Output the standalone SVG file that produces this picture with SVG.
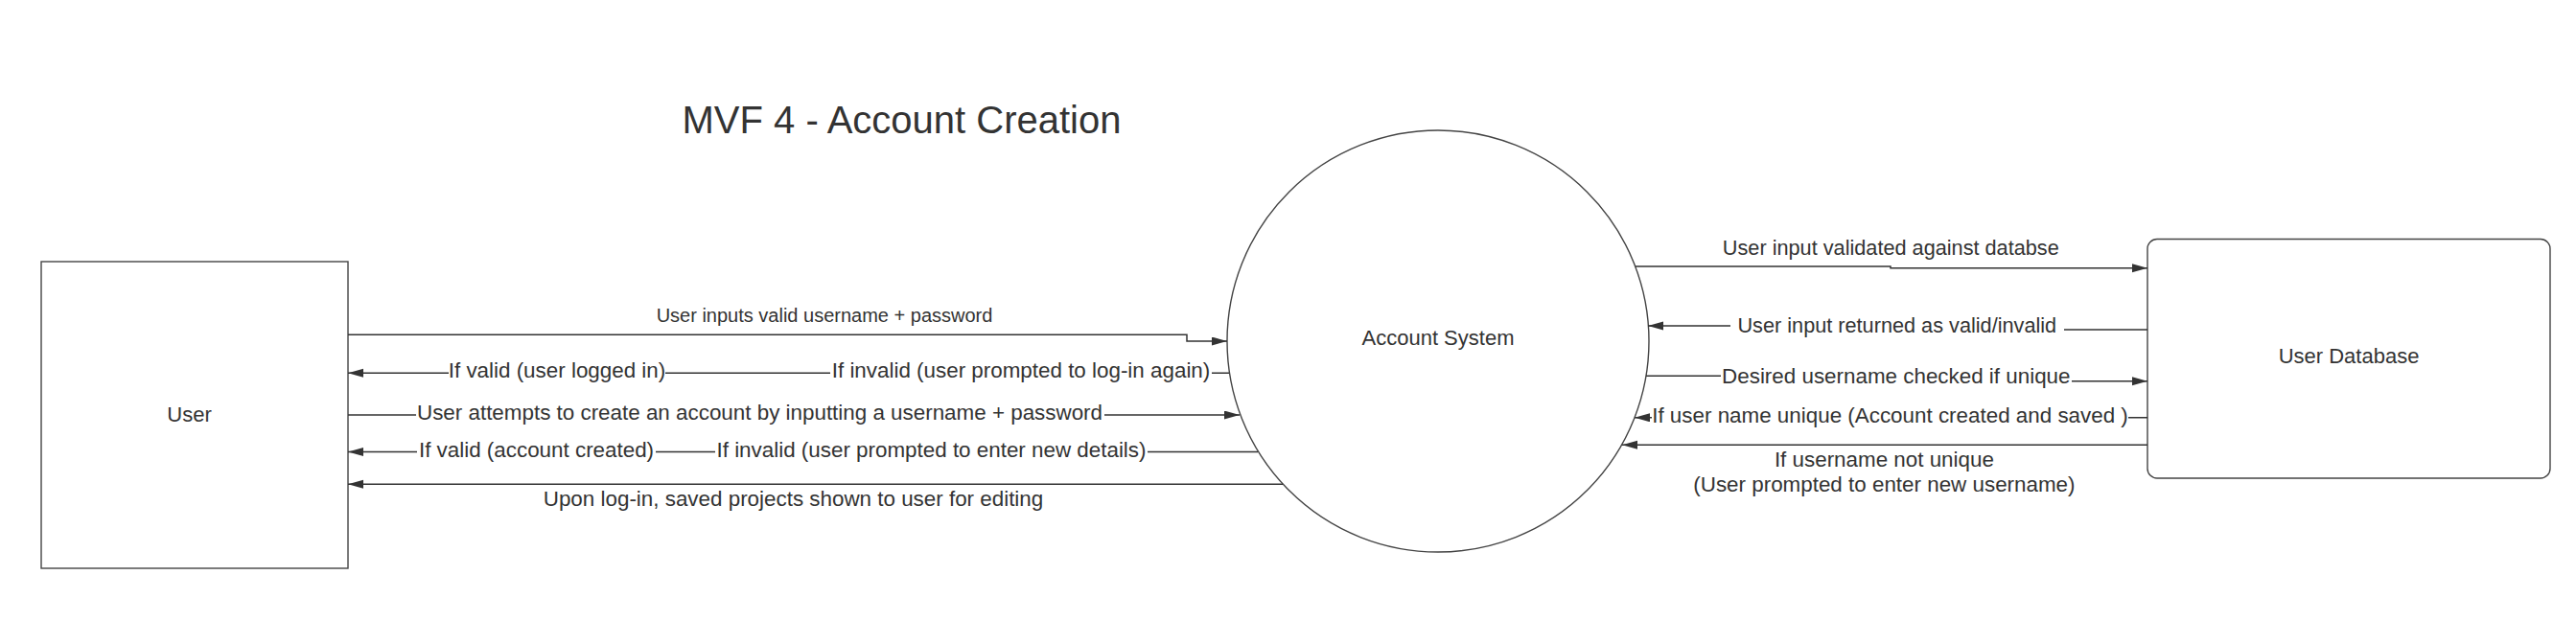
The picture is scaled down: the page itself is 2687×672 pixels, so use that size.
<svg xmlns="http://www.w3.org/2000/svg" width="2687" height="672" viewBox="0 0 2687 672">
<style>
text{font-family:"Liberation Sans",Arial,sans-serif;fill:#333333;text-anchor:middle}
.lbl{font-size:22.4px}
.lbl2{font-size:21.7px}
.node{font-size:22px}
.title{font-size:40px}
.shape{fill:#ffffff;stroke:#444444;stroke-width:1.4}
.conn{fill:none;stroke:#333333;stroke-width:1.5}
.arr{marker-end:url(#ah)}
.bg{fill:#ffffff}
</style>
<defs>
<marker id="ah" markerUnits="userSpaceOnUse" markerWidth="17" markerHeight="10" refX="16" refY="4.5" orient="auto">
<path d="M0,0 L16,4.5 L0,9 Z" fill="#333333"/>
</marker>
</defs>
<rect width="2687" height="672" fill="#ffffff"/>
<text class="title" x="940.5" y="138.5">MVF 4 - Account Creation</text>
<g id="user">
<rect class="shape" x="43" y="273" width="320" height="320"/>
<text class="node" x="197.5" y="440">User</text>
</g>
<g id="account-system">
<circle class="shape" cx="1500" cy="356" r="220"/>
<text class="node" x="1500" y="360">Account System</text>
</g>
<g id="user-database">
<rect class="shape" x="2240" y="249.5" width="420" height="249.5" rx="10" ry="10"/>
<text class="node" x="2450" y="379">User Database</text>
</g>
<g id="connectors">
<path class="conn arr" d="M363,349.3 H1238 V356 H1280"/>
<text style="font-size:20px" x="860" y="336">User inputs valid username + password</text>

<path class="conn arr" d="M1282,389.3 H363"/>
<rect class="bg" x="468" y="377" width="226" height="24"/>
<text class="lbl" x="581" y="394.3">If valid (user logged in)</text>
<rect class="bg" x="866" y="377" width="398" height="24"/>
<text class="lbl" x="1065" y="394.3">If invalid (user prompted to log-in again)</text>

<path class="conn arr" d="M363,433 H1293"/>
<rect class="bg" x="434" y="421" width="718" height="24"/>
<text class="lbl" x="792.5" y="438">User attempts to create an account by inputting a username + password</text>

<path class="conn arr" d="M1312,471.5 H363"/>
<rect class="bg" x="435" y="459" width="249" height="24"/>
<text class="lbl" x="559.5" y="476.5">If valid (account created)</text>
<rect class="bg" x="746" y="459" width="451" height="24"/>
<text class="lbl" x="971.5" y="476.5">If invalid (user prompted to enter new details)</text>

<path class="conn arr" d="M1338,505.3 H363"/>
<text class="lbl" x="827.5" y="527.5">Upon log-in, saved projects shown to user for editing</text>

<path class="conn arr" d="M1706,278 H1972 V279.8 H2240"/>
<text class="lbl2" x="1972.3" y="265.5">User input validated against databse</text>

<path class="conn arr" d="M2240,344 H1979 V340 H1719"/>
<rect class="bg" x="1805" y="330" width="348" height="24"/>
<text class="lbl2" x="1978.8" y="347">User input returned as valid/invalid</text>

<path class="conn arr" d="M1717,392.3 H1977 V397.7 H2240"/>
<rect class="bg" x="1795" y="383" width="366" height="24"/>
<text class="lbl" x="1977.8" y="400">Desired username checked if unique</text>

<path class="conn arr" d="M2240,435.8 H1705"/>
<rect class="bg" x="1723" y="424" width="497" height="24"/>
<text class="lbl" x="1971.5" y="441">If user name unique (Account created and saved )</text>

<path class="conn arr" d="M2240,464.3 H1692"/>
<text class="lbl" x="1965.4" y="486.5">If username not unique</text>
<text class="lbl" x="1965.4" y="513">(User prompted to enter new username)</text>
</g>
</svg>
